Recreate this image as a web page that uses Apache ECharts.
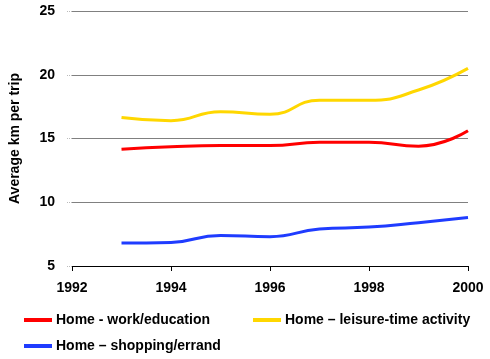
<!DOCTYPE html>
<html><head><meta charset="utf-8">
<script src="https://cdn.jsdelivr.net/npm/echarts@6/dist/echarts.min.js"></script>
<style>html,body{margin:0;padding:0;background:#fff}#c{width:490px;height:359px}</style>
</head><body><div id="c"></div>
<script>
const years = [1993, 1994, 1995, 1996, 1997, 1998, 1999, 2000];
const workEducation = [14.15, 14.35, 14.45, 14.45, 14.7, 14.7, 14.4, 15.6];
const leisure = [16.65, 16.4, 17.1, 16.9, 18.0, 18.0, 18.8, 20.5];
const shopping = [6.8, 6.85, 7.4, 7.3, 7.9, 8.05, 8.4, 8.8];
const seriesNames = ['Home - work/education', 'Home \u2013 leisure-time activity', 'Home \u2013 shopping/errand'];
const colors = ['#ff0000', '#ffd700', '#1f3cff'];

const font = 'Arial, "Liberation Sans", sans-serif';
const chart = echarts.init(document.getElementById('c'), null, {renderer: 'canvas'});
const mk = (vals) => years.map((y, i) => [y, vals[i]]);
const dataSets = [workEducation, leisure, shopping];
const legendPos = [{left: 20, top: 308}, {left: 249, top: 308}, {left: 20, top: 334}];
chart.setOption({
  animation: false,
  grid: {left: 68, right: 22, top: 11, bottom: 93},
  legend: legendPos.map((p, i) => ({
    data: [seriesNames[i]], left: p.left, top: p.top, icon: 'rect',
    itemWidth: 28, itemHeight: 4, itemGap: 4, padding: [5, 4, 5, 4],
    textStyle: {fontFamily: font, fontSize: 14, fontWeight: 'bold', color: '#000', padding: [0, 0, 0, -1]}
  })),
  xAxis: {
    type: 'value', min: 1992, max: 2000, interval: 2,
    axisLine: {show: true, lineStyle: {color: '#000', width: 1}},
    axisTick: {show: true, length: 5, lineStyle: {color: '#000'}},
    axisLabel: {fontFamily: font, fontSize: 14, fontWeight: 'bold', color: '#000', margin: 15,
      formatter: (v) => String(v)},
    splitLine: {show: false}
  },
  yAxis: {
    type: 'value', min: 5, max: 25, interval: 5,
    name: 'Average km per trip', nameLocation: 'middle', nameGap: 50,
    nameTextStyle: {fontFamily: font, fontSize: 14, fontWeight: 'bold', color: '#000'},
    axisLine: {show: false},
    axisTick: {show: true, length: 5, lineStyle: {color: '#bbb', type: 'dotted'}},
    axisLabel: {fontFamily: font, fontSize: 14, fontWeight: 'bold', color: '#000', margin: 17},
    splitLine: {show: true, lineStyle: {color: '#808080', width: 1}}
  },
  series: dataSets.map((d, i) => ({
    name: seriesNames[i], type: 'line', data: mk(d), smooth: 0.5,
    showSymbol: false, symbol: 'none',
    lineStyle: {color: colors[i], width: 3}, itemStyle: {color: colors[i]}
  }))
});
</script></body></html>
